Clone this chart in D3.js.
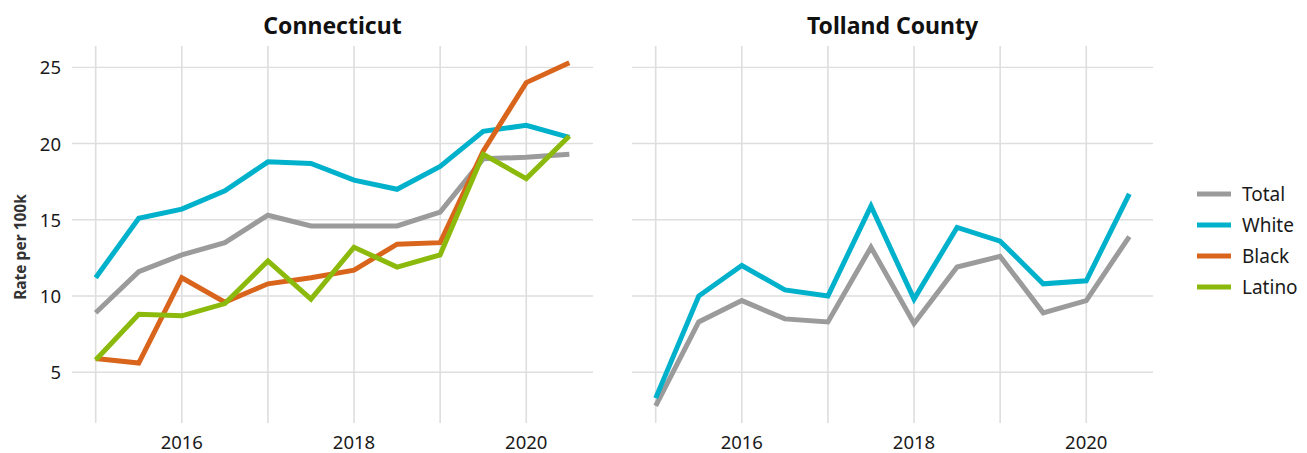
<!DOCTYPE html>
<html>
<head>
<meta charset="utf-8">
<script src="https://cdn.jsdelivr.net/npm/d3@7"></script>
<style>
  body { margin: 0; background: #fff; }
  svg { font-family: "Noto Sans", "Open Sans", sans-serif; }
</style>
</head>
<body>
<svg width="1307" height="453"></svg>
<script>
"use strict";

// half-year steps, 2015 .. 2020.5
var years = [2015, 2015.5, 2016, 2016.5, 2017, 2017.5, 2018, 2018.5, 2019, 2019.5, 2020, 2020.5];
var panels = ["Connecticut", "Tolland County"];
var groups = ["Total", "White", "Black", "Latino"];
var colors = ["#9b9b9b", "#00b1cb", "#d9641b", "#8cba0c"];

var ctTotal  = [8.9, 11.6, 12.7, 13.5, 15.3, 14.6, 14.6, 14.6, 15.5, 19.0, 19.1, 19.3];
var ctWhite  = [11.2, 15.1, 15.7, 16.9, 18.8, 18.7, 17.6, 17.0, 18.5, 20.8, 21.2, 20.4];
var ctBlack  = [5.9, 5.6, 11.2, 9.6, 10.8, 11.2, 11.7, 13.4, 13.5, 19.5, 24.0, 25.3];
var ctLatino = [5.8, 8.8, 8.7, 9.5, 12.3, 9.8, 13.2, 11.9, 12.7, 19.3, 17.7, 20.5];

var tcTotal  = [2.8, 8.3, 9.7, 8.5, 8.3, 13.2, 8.2, 11.9, 12.6, 8.9, 9.7, 13.9];
var tcWhite  = [3.3, 10.0, 12.0, 10.4, 10.0, 15.9, 9.8, 14.5, 13.6, 10.8, 11.0, 16.7];

var yTicks = [5, 10, 15, 20, 25];
var xLabelTicks = [2016, 2018, 2020];
var xGridTicks = [2015, 2016, 2017, 2018, 2019, 2020];

var series = {
  "Connecticut": [ctTotal, ctWhite, ctBlack, ctLatino],
  "Tolland County": [tcTotal, tcWhite, null, null]
};

var svg = d3.select("svg");
var panelLeft = [72, 632];
var panelW = 521;
var plotTop = 46, plotBottom = 423;

var y = d3.scaleLinear().domain([1.67, 26.4]).range([plotBottom, plotTop]);

panels.forEach(function(name, pi) {
  var x = d3.scaleLinear()
      .domain([2015 - 0.275, 2020.5 + 0.275])
      .range([panelLeft[pi], panelLeft[pi] + panelW]);

  var g = svg.append("g");

  g.selectAll(".hgrid").data(yTicks).enter().append("line")
      .attr("x1", x.range()[0]).attr("x2", x.range()[1])
      .attr("y1", function(d) { return y(d); }).attr("y2", function(d) { return y(d); })
      .attr("stroke", "#dedede").attr("stroke-width", 1.4);

  g.selectAll(".vgrid").data(xGridTicks).enter().append("line")
      .attr("x1", function(d) { return x(d); }).attr("x2", function(d) { return x(d); })
      .attr("y1", plotTop).attr("y2", plotBottom)
      .attr("stroke", "#dedede").attr("stroke-width", 1.6);

  g.selectAll(".xlab").data(xLabelTicks).enter().append("text")
      .attr("x", function(d) { return x(d); })
      .attr("y", 449)
      .attr("text-anchor", "middle")
      .attr("font-size", 18.5)
      .attr("fill", "#1a1a1a")
      .text(function(d) { return d; });

  if (pi === 0) {
    g.selectAll(".ylab").data(yTicks).enter().append("text")
        .attr("x", 61)
        .attr("y", function(d) { return y(d) + 7; })
        .attr("text-anchor", "end")
        .attr("font-size", 18.5)
        .attr("fill", "#1a1a1a")
        .text(function(d) { return d; });
  }

  g.append("text")
      .attr("x", (x.range()[0] + x.range()[1]) / 2)
      .attr("y", 34)
      .attr("text-anchor", "middle")
      .attr("font-size", 23)
      .attr("font-weight", "bold")
      .attr("fill", "#111")
      .text(name);

  var line = d3.line()
      .x(function(d, i) { return x(years[i]); })
      .y(function(d) { return y(d); });

  series[name].forEach(function(vals, si) {
    if (!vals) return;
    g.append("path")
        .datum(vals)
        .attr("d", line)
        .attr("fill", "none")
        .attr("stroke", colors[si])
        .attr("stroke-width", 5)
        .attr("stroke-linejoin", "miter")
        .attr("stroke-linecap", "butt");
  });
});

// y axis title
svg.append("text")
    .attr("transform", "translate(26,247) rotate(-90)")
    .attr("text-anchor", "middle")
    .attr("font-size", 15.5)
    .attr("font-weight", "bold")
    .attr("fill", "#333")
    .text("Rate per 100k");

// legend
var legend = svg.append("g");
groups.forEach(function(grp, i) {
  var ly = 194 + i * 31;
  legend.append("line")
      .attr("x1", 1197).attr("x2", 1231)
      .attr("y1", ly).attr("y2", ly)
      .attr("stroke", colors[i]).attr("stroke-width", 5);
  legend.append("text")
      .attr("x", 1242).attr("y", ly + 7)
      .attr("font-size", 19)
      .attr("fill", "#1a1a1a")
      .text(grp);
});
</script>
</body>
</html>
